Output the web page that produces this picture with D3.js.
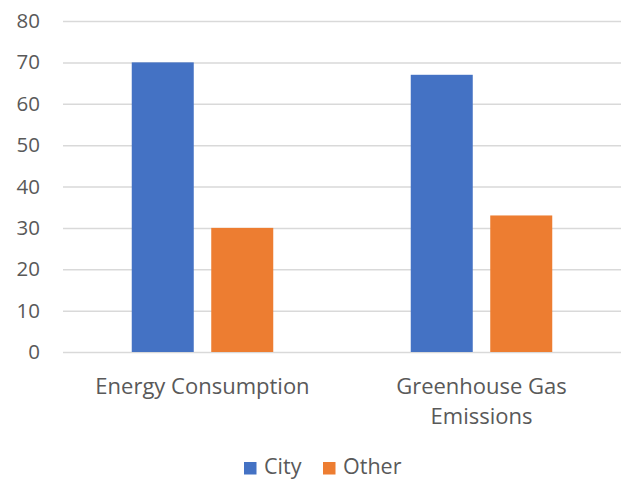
<!DOCTYPE html>
<html>
<head>
<meta charset="utf-8">
<script src="https://cdn.jsdelivr.net/npm/d3@7"></script>
<style>
  html, body { margin: 0; padding: 0; background: #fff; }
  text { font-family: "Open Sans", "Noto Sans", sans-serif; fill: #595959; }
</style>
</head>
<body>
<svg id="chart" width="624" height="479"></svg>
<script>
// Chart data
const categories = [["Energy Consumption"], ["Greenhouse Gas", "Emissions"]];
const seriesNames = ["City", "Other"];
const cityValues = [70, 67];
const otherValues = [30, 33];
const yTicks = [0, 10, 20, 30, 40, 50, 60, 70, 80];
const seriesColors = ["#4472C4", "#ED7D31"];

const seriesValues = [cityValues, otherValues];
const catKeys = categories.map(c => c.join(" "));

const svg = d3.select("#chart");
const plot = { left: 63, right: 621, top: 21, bottom: 352 };

const x = d3.scaleBand().domain(catKeys).range([plot.left, plot.right]).padding(0);
const y = d3.scaleLinear().domain([0, 80]).range([plot.bottom, plot.top]);

// Inner scale positions the two series within each category band
const barW = 62, barGap = 17.5;
const inner = d3.scaleBand().domain(seriesNames)
  .range([0, barW * 2 + barGap]).paddingInner(barGap / (barW + barGap)).paddingOuter(0);

// Gridlines and y tick labels
const yAxis = d3.axisLeft(y).tickValues(yTicks).tickSize(-(plot.right - plot.left)).tickPadding(23);
const gy = svg.append("g").attr("transform", `translate(${plot.left},0)`).call(yAxis);
gy.select(".domain").remove();
gy.selectAll(".tick line").attr("stroke", "#D9D9D9").attr("stroke-width", 1.5);
gy.selectAll(".tick text")
  .attr("fill", "#595959")
  .style("font-size", "20.5px")
  .style("font-family", "'Open Sans', 'Noto Sans', sans-serif");

// Bars
seriesNames.forEach((name, si) => {
  svg.append("g").selectAll("rect")
    .data(seriesValues[si])
    .join("rect")
    .attr("x", (d, i) => x(catKeys[i]) + (x.bandwidth() - inner.range()[1]) / 2 + inner(name))
    .attr("y", d => y(d))
    .attr("width", inner.bandwidth())
    .attr("height", d => y(0) - y(d))
    .attr("fill", seriesColors[si]);
});

// Category labels (wrapped lines)
const catG = svg.append("g");
categories.forEach((lines, i) => {
  const cx = x(catKeys[i]) + x.bandwidth() / 2;
  const t = catG.append("text")
    .attr("x", cx)
    .attr("y", 394)
    .attr("text-anchor", "middle")
    .style("font-size", "22px");
  lines.forEach((ln, li) => {
    t.append("tspan")
      .attr("x", cx)
      .attr("dy", li === 0 ? 0 : 30)
      .text(ln);
  });
});

// Legend
const legendItems = [
  { name: "City", sx: 244, tx: 264 },
  { name: "Other", sx: 323, tx: 343 }
];
const lg = svg.append("g");
legendItems.forEach((it, i) => {
  lg.append("rect").attr("x", it.sx).attr("y", 462).attr("width", 12.5).attr("height", 12.5)
    .attr("fill", seriesColors[i]);
  lg.append("text").attr("x", it.tx).attr("y", 473.5).style("font-size", "21.5px").text(it.name);
});
</script>
</body>
</html>
